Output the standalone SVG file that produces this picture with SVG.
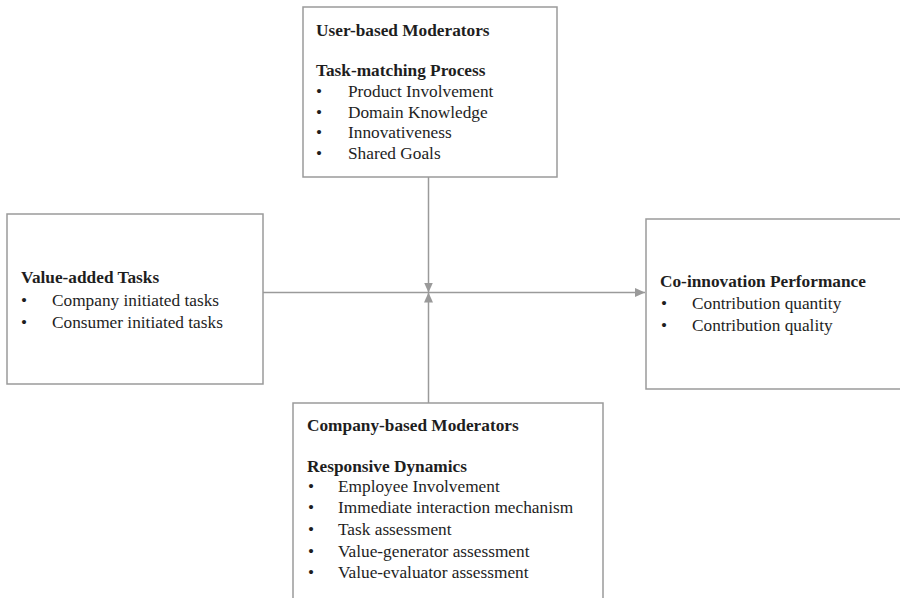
<svg xmlns="http://www.w3.org/2000/svg" width="900" height="598" viewBox="0 0 900 598">
<defs>
<marker id="ah" markerUnits="userSpaceOnUse" markerWidth="11" markerHeight="10" refX="10" refY="5" orient="auto">
<path d="M0,0.5 L10,5 L0,9.5 Z" fill="#9a9a9a"/>
</marker>
<style>
.box{fill:#fff;stroke:#9a9a9a;stroke-width:1.5}
.con{fill:none;stroke:#9a9a9a;stroke-width:1.5}
text{font-family:"Liberation Serif","Times New Roman",serif;font-size:17.3px;fill:#1e1e1e}
.h{font-weight:bold}
</style>
</defs>
<rect width="900" height="598" fill="#fff"/>
<g id="connectors">
<line class="con" x1="263" y1="292.5" x2="645" y2="292.5" marker-end="url(#ah)"/>
<line class="con" x1="428.5" y1="177" x2="428.5" y2="292.5" marker-end="url(#ah)"/>
<line class="con" x1="428.5" y1="403" x2="428.5" y2="292.5" marker-end="url(#ah)"/>
</g>
<g id="user-moderators">
<rect class="box" x="303" y="7" width="254" height="170"/>
<text class="h" x="316" y="36">User-based Moderators</text>
<text class="h" x="316" y="76">Task-matching Process</text>
<text x="316" y="97">•</text><text x="348" y="97">Product Involvement</text>
<text x="316" y="118">•</text><text x="348" y="118">Domain Knowledge</text>
<text x="316" y="138">•</text><text x="348" y="138">Innovativeness</text>
<text x="316" y="159">•</text><text x="348" y="159">Shared Goals</text>
</g>
<g id="value-added-tasks">
<rect class="box" x="7" y="214" width="256" height="170"/>
<text class="h" x="21" y="283">Value-added Tasks</text>
<text x="21" y="306">•</text><text x="52" y="306">Company initiated tasks</text>
<text x="21" y="328">•</text><text x="52" y="328">Consumer initiated tasks</text>
</g>
<g id="co-innovation">
<rect class="box" x="646" y="219" width="270" height="170"/>
<text class="h" x="660" y="287">Co-innovation Performance</text>
<text x="661" y="309">•</text><text x="692" y="309">Contribution quantity</text>
<text x="661" y="331">•</text><text x="692" y="331">Contribution quality</text>
</g>
<g id="company-moderators">
<rect class="box" x="293" y="403" width="310" height="210"/>
<text class="h" x="307" y="431">Company-based Moderators</text>
<text class="h" x="307" y="472">Responsive Dynamics</text>
<text x="308" y="492">•</text><text x="338" y="492">Employee Involvement</text>
<text x="308" y="513">•</text><text x="338" y="513">Immediate interaction mechanism</text>
<text x="308" y="535">•</text><text x="338" y="535">Task assessment</text>
<text x="308" y="557">•</text><text x="338" y="557">Value-generator assessment</text>
<text x="308" y="578">•</text><text x="338" y="578">Value-evaluator assessment</text>
</g>
</svg>
